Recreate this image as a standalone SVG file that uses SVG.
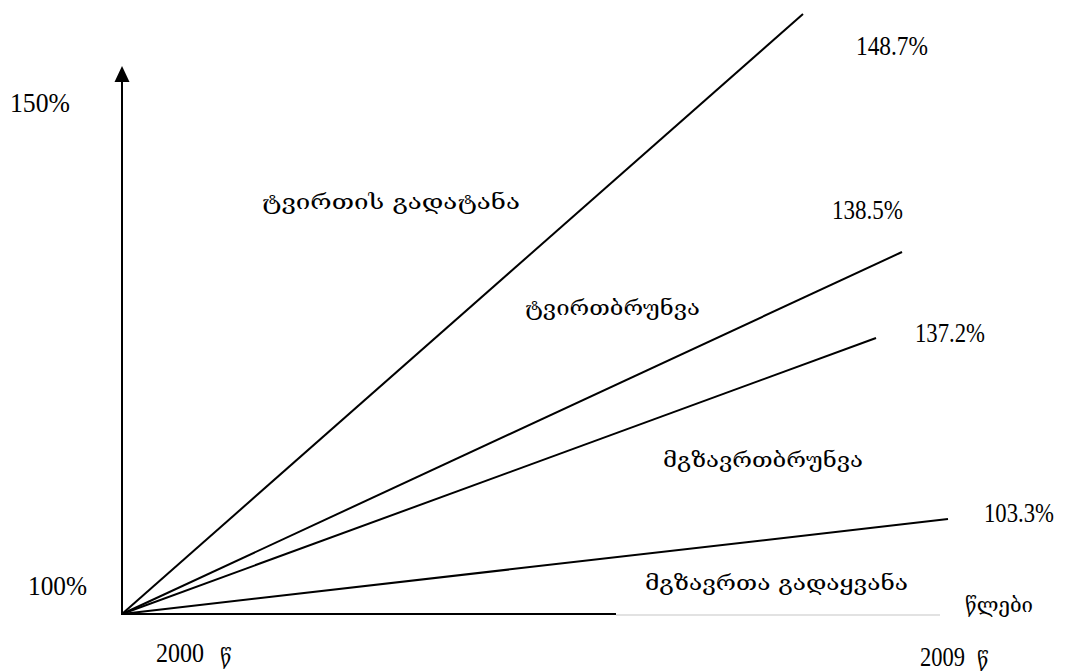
<svg xmlns="http://www.w3.org/2000/svg" width="1069" height="671" viewBox="0 0 1069 671">
<style>
.num{font-family:"Liberation Serif","Times New Roman",serif;font-size:27px;fill:#000}
.geo{font-family:"DejaVu Serif","DejaVu Sans",serif;font-size:20px;fill:#000}
.ln{stroke:#000;stroke-width:2;fill:none;stroke-linecap:butt}
</style>
<rect width="1069" height="671" fill="#fff"/>
<g id="axes">
<line class="ln" x1="122" y1="614" x2="122" y2="82"/>
<path d="M114.5,82 L122,66 L129.5,82 Z" fill="#000"/>
<line class="ln" x1="121" y1="614" x2="616" y2="614"/>
<line x1="616" y1="615" x2="940" y2="615" stroke="#d8d8d8" stroke-width="1.5"/>
</g>
<g id="connectors">
<line class="ln" x1="122" y1="614" x2="803" y2="14"/>
<line class="ln" x1="122" y1="614" x2="902" y2="252"/>
<line class="ln" x1="122" y1="614" x2="876" y2="338"/>
<line class="ln" x1="122" y1="614" x2="948" y2="519"/>
</g>
<g id="y150"><text class="num" x="10" y="112" textLength="60" lengthAdjust="spacingAndGlyphs">150%</text></g>
<g id="y100"><text class="num" x="28" y="595" textLength="59" lengthAdjust="spacingAndGlyphs">100%</text></g>
<g id="v1487"><text class="num" x="856" y="55" textLength="72" lengthAdjust="spacingAndGlyphs">148.7%</text></g>
<g id="v1385"><text class="num" x="832" y="219" textLength="71" lengthAdjust="spacingAndGlyphs">138.5%</text></g>
<g id="v1372"><text class="num" x="915" y="342" textLength="70" lengthAdjust="spacingAndGlyphs">137.2%</text></g>
<g id="v1033"><text class="num" x="984" y="522" textLength="70" lengthAdjust="spacingAndGlyphs">103.3%</text></g>
<g id="l-cargo"><text class="geo" x="262" y="209" textLength="258" lengthAdjust="spacingAndGlyphs">ტვირთის გადატანა</text></g>
<g id="l-cargoturn"><text class="geo" x="525" y="315" textLength="175" lengthAdjust="spacingAndGlyphs">ტვირთბრუნვა</text></g>
<g id="l-passturn"><text class="geo" x="663" y="467" textLength="200" lengthAdjust="spacingAndGlyphs">მგზავრთბრუნვა</text></g>
<g id="l-pass"><text class="geo" x="645" y="590" textLength="263" lengthAdjust="spacingAndGlyphs">მგზავრთა გადაყვანა</text></g>
<g id="l-years"><text class="geo" x="965" y="612" textLength="68" lengthAdjust="spacingAndGlyphs">წლები</text></g>
<g id="x2000"><text class="num" y="662"><tspan x="156" textLength="48" lengthAdjust="spacingAndGlyphs">2000</tspan><tspan class="geo" x="220" y="664">წ</tspan></text></g>
<g id="x2009"><text class="num" y="666"><tspan x="920" textLength="45" lengthAdjust="spacingAndGlyphs">2009</tspan><tspan class="geo" x="977" y="667">წ</tspan></text></g>
</svg>
